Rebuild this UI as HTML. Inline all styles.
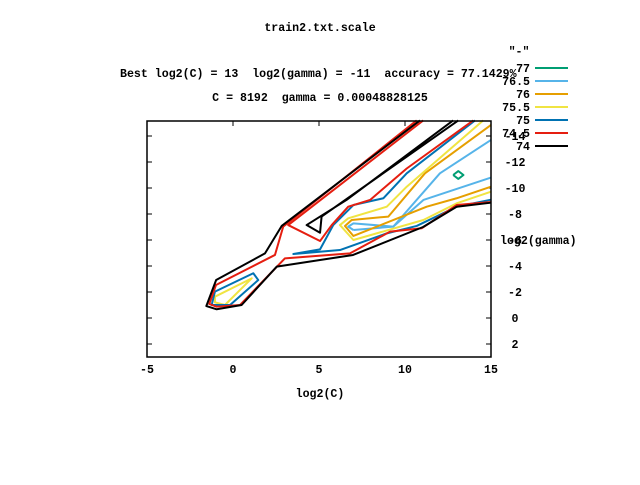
<!DOCTYPE html>
<html><head><meta charset="utf-8"><style>
body{margin:0;background:#fff}
svg text{font-family:"Liberation Mono",monospace;font-size:11.6px;fill:#000;font-weight:bold;white-space:pre}
</style></head><body>
<svg id="c" width="640" height="480" xml:space="preserve">
<rect width="640" height="480" fill="#fff"/>
<text x="320" y="31" text-anchor="middle">train2.txt.scale</text>
<text x="120" y="77">Best log2(C) = 13  log2(gamma) = -11  accuracy = 77.1429%</text>
<text x="320" y="101" text-anchor="middle">C = 8192  gamma = 0.00048828125</text>
<text x="519" y="55" text-anchor="middle">"-"</text>
<g id="plot"></g>
<rect x="147" y="121" width="344" height="236" fill="none" stroke="#000" stroke-width="1.5"/>
<text x="320" y="397" text-anchor="middle">log2(C)</text>
<text x="500" y="244">log2(gamma)</text>
</svg>
<script>
const xTicks=[-5,0,5,10,15];
const yTicks=[-14,-12,-10,-8,-6,-4,-2,0,2];
const levels=["77","76.5","76","75.5","75","74.5","74"];
const colors=["#009e73","#56b4e9","#e69f00","#f0e442","#0072b2","#e51e10","#000000"];
// contour polylines [log2C, log2gamma]
const c77=[[[12.8,-11],[13.1,-11.3],[13.4,-11],[13.1,-10.7],[12.8,-11]]];
const c765=[[[7,-6.77],[6.7,-7.03],[7,-7.28],[9.32,-7.03],[7,-6.77]],[[9.32,-7.03],[12.03,-11.13],[15,-13.7]],[[9.32,-7.03],[11.07,-9.08],[15,-10.8]]];
const c76=[[[15,-14.85],[11.16,-11.13],[9.03,-7.8],[6.9,-7.54],[6.51,-7.08],[7,-6.31],[11.26,-8.56],[13,-9.21],[15,-10.1]]];
const c755=[[[-1.05,-1.64],[1.09,-3.05],[-0.47,-1.0],[-1.05,-1.2],[-1.05,-1.64]],[[14.55,-15.2],[10.1,-10.1],[8.94,-8.56],[6.7,-7.67],[6.22,-7.15],[7,-6.0],[11.07,-7.54],[13,-8.82],[15,-9.72]]];
const c75=[[[-1.05,-2.03],[1.18,-3.44],[1.47,-2.92],[-0.17,-1.0],[-1.24,-1.0],[-1.05,-2.03]],[[14.07,-15.2],[10.1,-11.13],[8.74,-9.21],[7,-8.69],[5.83,-7.15],[5.06,-5.28],[3.51,-4.92],[6.22,-5.23],[8.94,-6.51],[10.68,-7.08],[13,-8.56],[15,-9.1]]];
const c745=[[[10.68,-15.2],[2.92,-7.03],[2.44,-4.85],[-0.99,-2.54],[-1.38,-1.08],[-0.95,-0.87],[0.41,-1.0],[3.02,-4.59],[6.8,-4.97],[9.13,-6.64],[10.97,-6.9],[13,-8.69],[15,-8.92]],[[11.06,-15.2],[3.21,-7.15],[5.06,-5.92],[5.74,-7.15],[6.7,-8.56],[7.97,-9.08],[10.1,-11.5],[13.97,-15.2]]];
const c74=[[[10.87,-15.2],[2.83,-7.08],[1.86,-4.97],[-0.98,-2.92],[-1.55,-0.92],[-0.95,-0.67],[0.5,-1.0],[2.54,-3.95],[3.02,-4.05],[5.06,-4.46],[6.98,-4.85],[11.05,-7.0],[13,-8.56],[15,-8.87]],[[12.8,-15.2],[6.6,-9.08],[4.28,-7.15],[5.06,-6.56],[5.15,-7.8],[13.1,-15.2]]];
const series=[c77,c765,c76,c755,c75,c745,c74];
const NS="http://www.w3.org/2000/svg";
const sx=v=>233+v*17.2, sy=v=>318+v*13;
const g=document.getElementById('plot');
xTicks.forEach(t=>{
 const l=document.createElementNS(NS,'line');
 
 
 l.setAttribute('x1',sx(t));l.setAttribute('x2',sx(t));l.setAttribute('y1',121);l.setAttribute('y2',126);l.setAttribute('stroke','#000');
 g.appendChild(l);
 const tx=document.createElementNS(NS,'text');
 
 
 tx.setAttribute('x',sx(t));tx.setAttribute('y',373);tx.setAttribute('text-anchor','middle');tx.textContent=t;
 g.appendChild(tx);
});
yTicks.forEach(t=>{
 const l=document.createElementNS(NS,'line');
 
 
 l.setAttribute('x1',147);l.setAttribute('x2',152);l.setAttribute('y1',sy(t));l.setAttribute('y2',sy(t));l.setAttribute('stroke','#000');
 g.appendChild(l);
 const l2=document.createElementNS(NS,'line');
 
 
 l2.setAttribute('x1',486);l2.setAttribute('x2',491);l2.setAttribute('y1',sy(t));l2.setAttribute('y2',sy(t));l2.setAttribute('stroke','#000');
 g.appendChild(l2);
 const tx=document.createElementNS(NS,'text');
 
 
 tx.setAttribute('x',515);tx.setAttribute('y',sy(t)+4);tx.setAttribute('text-anchor','middle');tx.textContent=t;
 g.appendChild(tx);
});
series.forEach((s,i)=>{
 s.forEach(pl=>{
  const p=document.createElementNS(NS,'polyline');
  
  
  p.setAttribute('points',pl.map(d=>sx(d[0])+','+sy(d[1])).join(' '));
  p.setAttribute('fill','none');p.setAttribute('stroke',colors[i]);p.setAttribute('stroke-width',2);
  p.setAttribute('stroke-linejoin','round');
  g.appendChild(p);
 });
 const y=68+i*13;
 const t=document.createElementNS(NS,'text');
 
 
 t.setAttribute('x',530);t.setAttribute('y',y+4);t.setAttribute('text-anchor','end');t.textContent=levels[i];
 g.appendChild(t);
 const l=document.createElementNS(NS,'line');
 
 
 l.setAttribute('x1',535);l.setAttribute('x2',568);l.setAttribute('y1',y);l.setAttribute('y2',y);
 l.setAttribute('stroke',colors[i]);l.setAttribute('stroke-width',2);
 g.appendChild(l);
});
</script>
</body></html>
